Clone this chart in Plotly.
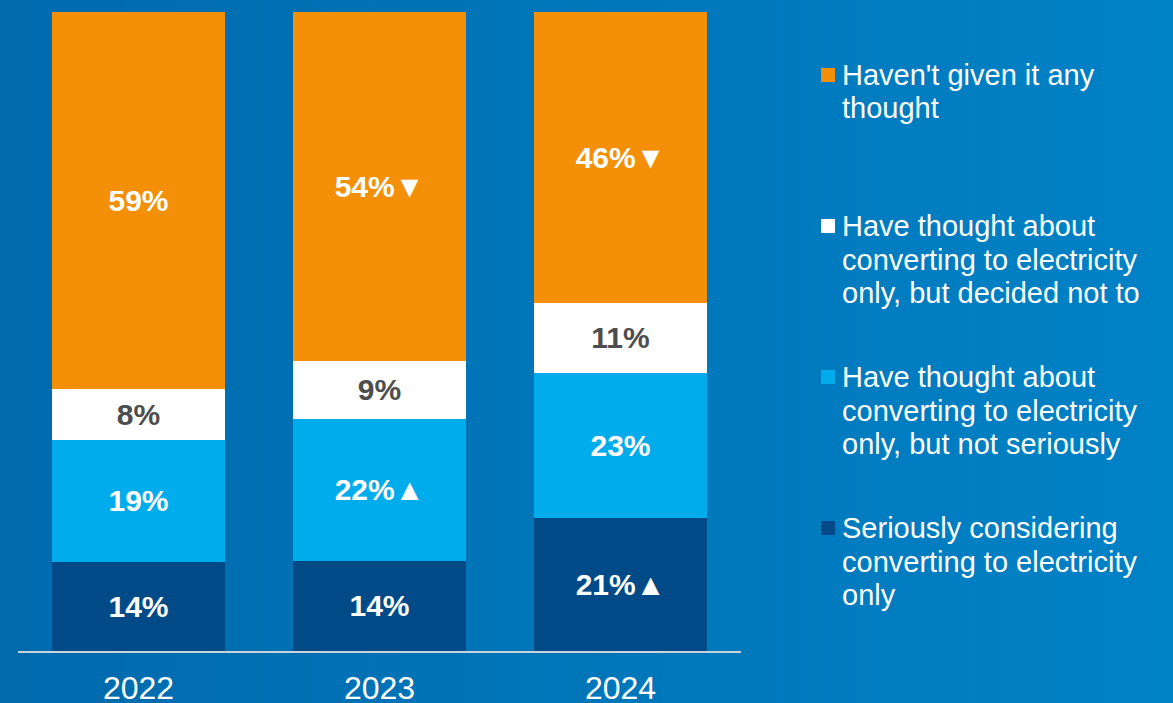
import base64, struct, zlib
import plotly.graph_objects as go

years = ["2022", "2023", "2024"]
series_names = [
    "Seriously considering<br>converting to electricity<br>only",
    "Have thought about<br>converting to electricity<br>only, but not seriously",
    "Have thought about<br>converting to electricity<br>only, but decided not to",
    "Haven't given it any<br>thought",
]
serious = [14, 14, 21]
not_seriously = [19, 22, 23]
decided_not = [8, 9, 11]
no_thought = [59, 54, 46]
serious_mark = ["", "", "▲"]
not_seriously_mark = ["", "▲", ""]
decided_not_mark = ["", "", ""]
no_thought_mark = ["", "▼", "▼"]

colors = ["#004A87", "#00ACEC", "#FFFFFF", "#F39008"]
text_colors = ["#FFFFFF", "#FFFFFF", "#4D4D4D", "#FFFFFF"]
values = [serious, not_seriously, decided_not, no_thought]
marks = [serious_mark, not_seriously_mark, decided_not_mark, no_thought_mark]

W, H = 1173, 703
ml, mr, mt, mb = 18, W - 741, 12, H - 651

def png_gradient(w, c1, c2):
    row = b"\x00"
    for i in range(w):
        t = i / (w - 1)
        row += bytes(int(round(c1[k] + (c2[k] - c1[k]) * t)) for k in range(3))
    def chunk(tag, data):
        c = struct.pack(">I", len(data)) + tag + data
        return c + struct.pack(">I", zlib.crc32(tag + data) & 0xffffffff)
    png = b"\x89PNG\r\n\x1a\n"
    png += chunk(b"IHDR", struct.pack(">IIBBBBB", w, 1, 8, 2, 0, 0, 0))
    png += chunk(b"IDAT", zlib.compress(row))
    png += chunk(b"IEND", b"")
    return "data:image/png;base64," + base64.b64encode(png).decode()

bg = png_gradient(256, (0x00, 0x6A, 0xAD), (0x00, 0x82, 0xC6))

fig = go.Figure()
for name, vals, mk, col, tcol in zip(series_names, values, marks, colors, text_colors):
    fig.add_trace(go.Bar(
        x=years, y=vals, name=name,
        marker=dict(color=col, line=dict(width=0)),
        text=[f"{v}%{m}" for v, m in zip(vals, mk)],
        textposition="inside", insidetextanchor="middle",
        textfont=dict(family="Liberation Sans, Arial, sans-serif", size=30, color=tcol, weight="bold"),
        constraintext="none",
        hoverinfo="skip",
    ))

fig.update_layout(
    width=W, height=H,
    margin=dict(l=ml, r=mr, t=mt, b=mb, autoexpand=False),
    barmode="stack", barnorm="percent", bargap=0.286,
    showlegend=False,
    paper_bgcolor="#0078BC",
    plot_bgcolor="rgba(0,0,0,0)",
    font=dict(family="Liberation Sans, Arial, sans-serif", color="white"),
    xaxis=dict(showline=True, linecolor="#C9D3DC", linewidth=2, automargin=False,
               tickfont=dict(size=32, color="white"),
               ticks="outside", ticklen=8, tickcolor="rgba(0,0,0,0)",
               showgrid=False, zeroline=False),
    yaxis=dict(visible=False, range=[0, 100], showgrid=False, zeroline=False, automargin=False),
    images=[dict(source=bg, xref="paper", yref="paper", x=-ml / (W - ml - mr),
                 y=1 + mt / (H - mt - mb), sizex=W / (W - ml - mr), sizey=H / (H - mt - mb),
                 sizing="stretch", layer="below", xanchor="left", yanchor="top")],
)

pw = W - ml - mr
ph = H - mt - mb
def px_x(x):
    return (x - ml) / pw
def px_y(y):
    return (H - mb - y) / ph

legend_order = [3, 2, 1, 0]
legend_y = [75, 226, 377, 528]
line_step = 33.5
for idx, yy in zip(legend_order, legend_y):
    fig.add_shape(type="rect", xref="paper", yref="paper",
                  x0=px_x(821), x1=px_x(835), y0=px_y(yy + 7), y1=px_y(yy - 7),
                  fillcolor=colors[idx], line=dict(width=0))
    for k, line in enumerate(series_names[idx].split("<br>")):
        fig.add_annotation(xref="paper", yref="paper", x=px_x(840), y=px_y(yy + k * line_step),
                           xanchor="left", yanchor="middle", align="left", showarrow=False,
                           text=line,
                           font=dict(size=29, color="white", family="Liberation Sans, Arial, sans-serif"))

fig.write_html("out.html")
